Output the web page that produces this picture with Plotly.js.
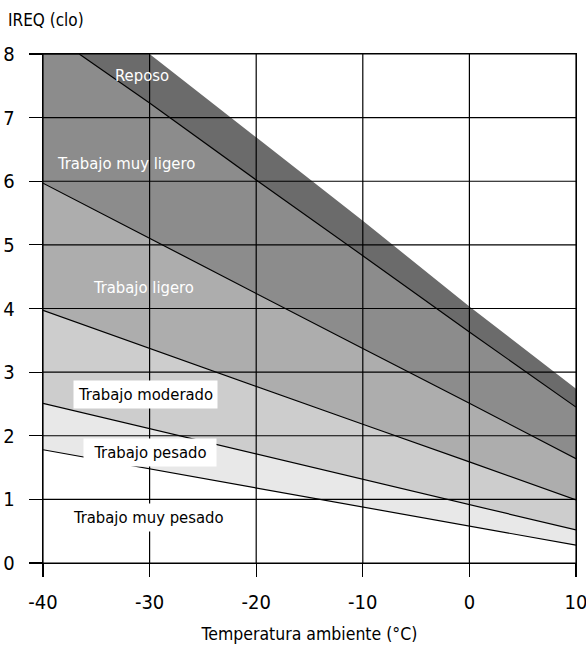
<!DOCTYPE html>
<html>
<head>
<meta charset="utf-8">
<script src="https://cdn.plot.ly/plotly-3.0.1.min.js"></script>
<style>html,body{margin:0;padding:0;background:#fff;}#chart{width:586px;height:647px;}</style>
</head>
<body>
<div id="chart"></div>
<script>
// Temperature (°C) sample points
const temps = [-40, -30, -20, -10, 0, 10];
// Lower boundary of each activity band (IREQ, clo)
const pesadoLower    = [1.78, 1.48, 1.18, 0.88, 0.58, 0.28];
const moderadoLower  = [2.51, 2.11, 1.71, 1.31, 0.92, 0.52];
const ligeroLower    = [3.97, 3.37, 2.78, 2.18, 1.59, 0.99];
const muyLigeroLower = [5.97, 5.10, 4.24, 3.37, 2.51, 1.64];
const reposoTemps    = [-40, -36.6, -30, -20, -10, 0, 10];
const reposoLower    = [8, 8, 7.23, 6.02, 4.83, 3.63, 2.45];
const reposoUpper    = [8, 8, 6.69, 5.38, 4.03, 2.74];

const xTicks = [-40, -30, -20, -10, 0, 10];
const yTicks = [0, 1, 2, 3, 4, 5, 6, 7, 8];

const labels = [
  {text: 'Reposo', x: -30.7, y: 7.67, white: true},
  {text: 'Trabajo muy ligero', x: -32.2, y: 6.28, white: true},
  {text: 'Trabajo ligero', x: -30.6, y: 4.33, white: true},
  {text: 'Trabajo moderado', x: -30.4, y: 2.65, white: false},
  {text: 'Trabajo pesado', x: -30.0, y: 1.73, white: false, w: 124},
  {text: 'Trabajo muy pesado', x: -30.1, y: 0.72, white: false}
];

const FONT = '"DejaVu Sans Condensed", "Liberation Sans Narrow", sans-serif';
const lineStyle = {color: '#000', width: 1.2};

const traces = [
  {x: temps, y: pesadoLower, mode: 'lines', line: lineStyle, hoverinfo: 'skip'},
  {x: temps, y: moderadoLower, mode: 'lines', line: lineStyle, fill: 'tonexty', fillcolor: '#e8e8e8', hoverinfo: 'skip'},
  {x: temps, y: ligeroLower, mode: 'lines', line: lineStyle, fill: 'tonexty', fillcolor: '#cdcdcd', hoverinfo: 'skip'},
  {x: temps, y: muyLigeroLower, mode: 'lines', line: lineStyle, fill: 'tonexty', fillcolor: '#adadad', hoverinfo: 'skip'},
  {x: reposoTemps, y: reposoLower, mode: 'lines', line: lineStyle, fill: 'tonexty', fillcolor: '#8c8c8c', hoverinfo: 'skip'},
  {x: temps, y: reposoUpper, mode: 'lines', line: {width: 0, color: 'rgba(0,0,0,0)'}, fill: 'tonexty', fillcolor: '#6b6b6b', hoverinfo: 'skip'}
];

const shapes = [];
xTicks.forEach(v => shapes.push({type: 'line', xref: 'x', yref: 'y', x0: v, x1: v, y0: 0, y1: 8, layer: 'above', line: {color: '#000', width: 1.2}}));
yTicks.forEach(v => shapes.push({type: 'line', xref: 'x', yref: 'y', x0: -40, x1: 10, y0: v, y1: v, layer: 'above', line: {color: '#000', width: 1.2}}));

const annotations = labels.map(l => {
  const a = {x: l.x, y: l.y, xref: 'x', yref: 'y', text: l.text, showarrow: false,
    font: {family: FONT, size: 16.5, color: l.white ? '#fff' : '#000'}};
  if (!l.white) { a.bgcolor = '#fff'; a.borderpad = 4; }
  if (l.w) { a.width = l.w; }
  return a;
});
annotations.push({xref: 'paper', yref: 'paper', x: -0.07, y: 1.0, yshift: 34, xanchor: 'left', yanchor: 'middle',
  text: 'IREQ (clo)', showarrow: false, font: {family: FONT, size: 17, color: '#000'}});

const axisCommon = {
  showgrid: false, zeroline: false, showline: true, linecolor: '#000', linewidth: 1.2, mirror: true,
  ticks: 'outside', ticklen: 13, tickwidth: 1.2, tickcolor: '#000',
  tickfont: {family: FONT, size: 20, color: '#000'}, fixedrange: true, ticklabeloverflow: 'allow'
};

const layout = {
  width: 586, height: 647,
  margin: {l: 43, r: 10, t: 54, b: 84},
  paper_bgcolor: '#fff', plot_bgcolor: '#fff',
  showlegend: false,
  xaxis: Object.assign({}, axisCommon, {range: [-40, 10], tickvals: xTicks, ticktext: xTicks.map(String),
    ticklabelstandoff: 8,
    title: {text: 'Temperatura ambiente (°C)', font: {family: FONT, size: 17.5, color: '#000'}, standoff: 14}}),
  yaxis: Object.assign({}, axisCommon, {range: [0, 8], tickvals: yTicks, ticktext: yTicks.map(String),
    ticklabelstandoff: 10}),
  shapes: shapes,
  annotations: annotations
};

Plotly.newPlot('chart', traces, layout, {displayModeBar: false, staticPlot: true});
</script>
</body>
</html>
